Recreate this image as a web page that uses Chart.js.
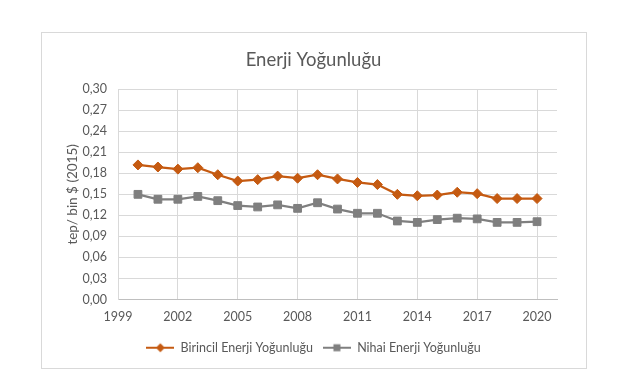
<!DOCTYPE html>
<html>
<head>
<meta charset="utf-8">
<script src="https://cdn.jsdelivr.net/npm/chart.js@4.4.1/dist/chart.umd.min.js"></script>
<style>
html,body{margin:0;padding:0;background:#fff;}
#wrap{width:627px;height:373px;position:relative;}
</style>
</head>
<body>
<div id="wrap"><canvas id="c" width="627" height="373"></canvas></div>
<script>
const years = [2000,2001,2002,2003,2004,2005,2006,2007,2008,2009,2010,2011,2012,2013,2014,2015,2016,2017,2018,2019,2020];
const birincil = [0.192,0.189,0.186,0.188,0.178,0.169,0.171,0.176,0.173,0.178,0.172,0.167,0.164,0.150,0.148,0.149,0.153,0.151,0.144,0.144,0.144];
const nihai = [0.150,0.143,0.143,0.147,0.141,0.134,0.132,0.135,0.130,0.138,0.129,0.123,0.123,0.112,0.110,0.114,0.116,0.115,0.110,0.110,0.111];
const xTicks = [1999,2002,2005,2008,2011,2014,2017,2020];
const yTicks = [0,0.03,0.06,0.09,0.12,0.15,0.18,0.21,0.24,0.27,0.30];
const seriesNames = ['Birincil Enerji Yoğunluğu','Nihai Enerji Yoğunluğu'];
const titleText = 'Enerji Yoğunluğu';
const yTitle = 'tep/ bin $ (2015)';

const ORANGE = '#C55A11';
const GRAY = '#7F7F7F';
const TXT = '#595959';
const GRID = '#D9D9D9';
const FONT = 'Lato';

function legendIcon(color, shape){
  const cv = document.createElement('canvas');
  cv.width = 28; cv.height = 12;
  const g = cv.getContext('2d');
  g.strokeStyle = color; g.lineWidth = 2;
  g.beginPath(); g.moveTo(0,6); g.lineTo(28,6); g.stroke();
  g.fillStyle = color;
  g.beginPath();
  if(shape==='diamond'){ g.moveTo(14,1.5); g.lineTo(18.5,6); g.lineTo(14,10.5); g.lineTo(9.5,6); g.closePath(); }
  else { g.rect(10.5,2.5,7,7); }
  g.fill();
  return cv;
}
const icons = [legendIcon(ORANGE,'diamond'), legendIcon(GRAY,'square')];

const borderPlugin = {
  id:'frame',
  beforeDraw(chart){
    const ctx = chart.ctx;
    ctx.save();
    ctx.fillStyle='#fff'; ctx.fillRect(0,0,chart.width,chart.height);
    ctx.strokeStyle = GRID; ctx.lineWidth = 1;
    ctx.strokeRect(41.5,32.5,545,336);
    ctx.restore();
  }
};

new Chart(document.getElementById('c'), {
  type:'line',
  data:{
    datasets:[
      {label:seriesNames[0], data: years.map((y,i)=>({x:y,y:birincil[i]})), borderColor:ORANGE, backgroundColor:ORANGE,
       borderWidth:2.25, pointStyle:'rectRot', pointRadius:5, pointBorderWidth:1, pointBackgroundColor:ORANGE, pointBorderColor:ORANGE, tension:0},
      {label:seriesNames[1], data: years.map((y,i)=>({x:y,y:nihai[i]})), borderColor:GRAY, backgroundColor:GRAY,
       borderWidth:2.25, pointStyle:'rect', pointRadius:5.5, pointBorderWidth:1, pointBackgroundColor:GRAY, pointBorderColor:GRAY, tension:0}
    ]
  },
  options:{
    responsive:false, animation:false,
    layout:{padding:{left:41,right:41,top:40,bottom:9}},
    plugins:{
      title:{display:true, text:titleText, color:TXT, font:{family:FONT,size:18.5,weight:'normal'}, padding:{top:9,bottom:18}},
      legend:{position:'bottom', labels:{color:TXT, font:{family:FONT,size:12.5}, usePointStyle:true, pointStyleWidth:28, boxHeight:12, padding:10,
        generateLabels(chart){
          return chart.data.datasets.map((d,i)=>({text:d.label, fillStyle:d.borderColor, strokeStyle:d.borderColor, fontColor:TXT, pointStyle:icons[i], lineWidth:0, datasetIndex:i, hidden:false}));
        }}},
      tooltip:{enabled:false}
    },
    scales:{
      x:{type:'linear', min:1999, max:2021,
        afterBuildTicks(s){ s.ticks = xTicks.map(v=>({value:v})); },
        afterFit(s){ s.height = 32; s.paddingRight = 70; },
        grid:{color:GRID, drawTicks:false, lineWidth:1},
        border:{color:'#BFBFBF'},
        ticks:{color:TXT, font:{family:FONT,size:12.5}, padding:10, autoSkip:false, maxRotation:0, callback:v=>String(v)}
      },
      y:{min:0, max:0.3,
        afterBuildTicks(s){ s.ticks = yTicks.map(v=>({value:v})); },
        afterFit(s){ s.width = 77; },
        grid:{color:GRID, drawTicks:false, lineWidth:1},
        border:{color:GRID},
        title:{display:true, text:yTitle, color:TXT, font:{family:FONT,size:13.5}, padding:{top:24,bottom:0}},
        ticks:{color:TXT, font:{family:FONT,size:12.5}, padding:11, callback:v=>Number(v).toFixed(2).replace('.',',')}
      }
    }
  },
  plugins:[borderPlugin]
});
</script>
</body>
</html>
